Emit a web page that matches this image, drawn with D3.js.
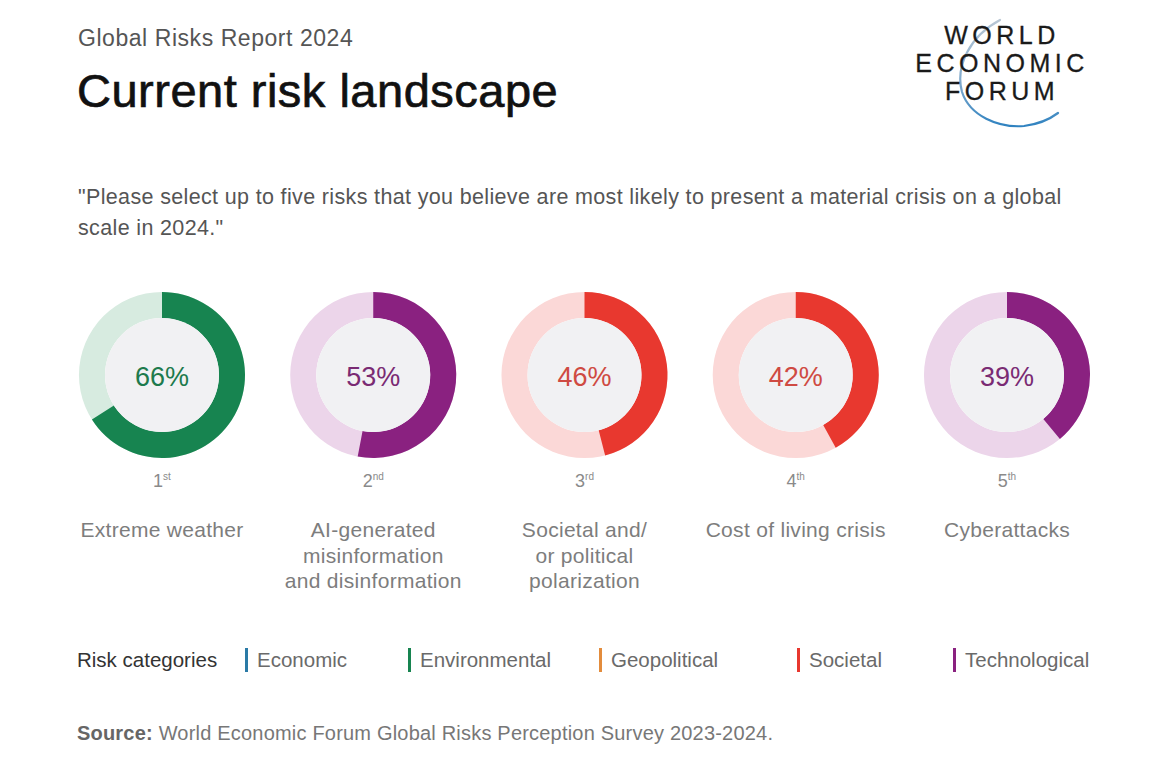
<!DOCTYPE html>
<html lang="en">
<head>
  <meta charset="UTF-8">
  <title>Current risk landscape</title>
  <script src="https://d3js.org/d3.v7.min.js"></script>
  <style>
    html, body { margin: 0; padding: 0; background: #fff; }
    svg { display: block; font-family: "Liberation Sans", Arial, Helvetica, sans-serif; }
  </style>
</head>
<body>
  <svg id="chart" width="1164" height="775"></svg>
  <script>
    // ---- data ----
    const risks = ["Extreme weather", "AI-generated misinformation and disinformation",
                   "Societal and/or political polarization", "Cost of living crisis", "Cyberattacks"];
    const labelLines = [
      ["Extreme weather"],
      ["AI-generated", "misinformation", "and disinformation"],
      ["Societal and/", "or political", "polarization"],
      ["Cost of living crisis"],
      ["Cyberattacks"]
    ];
    const shares = [66, 53, 46, 42, 39];
    const ranks = ["1", "2", "3", "4", "5"];
    const rankSuffix = ["st", "nd", "rd", "th", "th"];
    const riskCategory = ["Environmental", "Technological", "Societal", "Societal", "Technological"];
    const categories = ["Economic", "Environmental", "Geopolitical", "Societal", "Technological"];

    // ---- palette ----
    const catColor = d3.scaleOrdinal()
      .domain(categories)
      .range(["#2a7aa6", "#178450", "#e38c3c", "#e8382f", "#8a2180"]);
    const trackColor = d3.scaleOrdinal()
      .domain(categories)
      .range(["#d6e6f0", "#d7ebe0", "#fbe4d0", "#fbd8d7", "#ecd5ea"]);
    const textColor = d3.scaleOrdinal()
      .domain(categories)
      .range(["#2a6d93", "#1d7a4c", "#b36b2a", "#cf4a42", "#7a2b73"]);

    const svg = d3.select("#chart");

    // ---- header ----
    svg.append("text").attr("x", 78).attr("y", 46)
      .attr("font-size", 23).attr("letter-spacing", 0.55).attr("fill", "#555")
      .text("Global Risks Report 2024");

    svg.append("text").attr("x", 77).attr("y", 107)
      .attr("font-size", 47).attr("letter-spacing", 0.5).attr("fill", "#111")
      .attr("stroke", "#111").attr("stroke-width", 0.7)
      .text("Current risk landscape");

    // WEF logo
    const logo = svg.append("g");
    const grad = svg.append("defs").append("linearGradient")
      .attr("id", "arcGrad").attr("x1", 0).attr("y1", 0).attr("x2", 0).attr("y2", 1);
    grad.append("stop").attr("offset", "0%").attr("stop-color", "#b8c6d4");
    grad.append("stop").attr("offset", "60%").attr("stop-color", "#7fa9cc");
    grad.append("stop").attr("offset", "100%").attr("stop-color", "#2f82c0");
    logo.append("path")
      .attr("d", "M1000,20 C970,36 955,66 962,92 C970,116 998,128 1024,126 C1040,124 1050,119 1058,113")
      .attr("fill", "none").attr("stroke", "url(#arcGrad)").attr("stroke-width", 2.2)
      .attr("stroke-linecap", "round");
    [["WORLD", 44], ["ECONOMIC", 72], ["FORUM", 100]].forEach(([w, y]) => {
      logo.append("text").attr("x", 1002).attr("y", y)
        .attr("text-anchor", "middle").attr("font-size", 25)
        .attr("letter-spacing", 4.5).attr("fill", "#1a1a1a")
        .attr("stroke", "#1a1a1a").attr("stroke-width", 0.3)
        .text(w);
    });

    // question
    const q = svg.append("text").attr("font-size", 21.5).attr("letter-spacing", 0.35).attr("fill", "#555");
    q.append("tspan").attr("x", 78).attr("y", 204)
      .text("\"Please select up to five risks that you believe are most likely to present a material crisis on a global");
    q.append("tspan").attr("x", 78).attr("y", 235).text("scale in 2024.\"");

    // ---- donuts ----
    const x = d3.scalePoint().domain(risks).range([162, 1007]);
    const cy = 375;
    const outerR = 83, innerR = 57;
    const angle = d3.scaleLinear().domain([0, 100]).range([0, 2 * Math.PI]);
    const arc = d3.arc().innerRadius(innerR).outerRadius(outerR);

    const donut = svg.selectAll(".donut")
      .data(risks)
      .enter().append("g")
      .attr("class", "donut")
      .attr("transform", d => `translate(${x(d)},${cy})`);

    donut.append("path")
      .attr("d", arc({ startAngle: 0, endAngle: 2 * Math.PI }))
      .attr("fill", (d, i) => trackColor(riskCategory[i]));
    donut.append("path")
      .attr("d", (d, i) => arc({ startAngle: 0, endAngle: angle(shares[i]) }))
      .attr("fill", (d, i) => catColor(riskCategory[i]));
    donut.append("circle").attr("r", innerR).attr("fill", "#f1f1f3");
    donut.append("text")
      .attr("y", 11).attr("text-anchor", "middle")
      .attr("font-size", 27)
      .attr("fill", (d, i) => textColor(riskCategory[i]))
      .text((d, i) => shares[i] + "%");

    // rank
    const rk = donut.append("text")
      .attr("y", 112).attr("text-anchor", "middle").attr("fill", "#8a8a8a");
    rk.append("tspan").attr("font-size", 18).text((d, i) => ranks[i]);
    rk.append("tspan").attr("font-size", 10).attr("dy", -7).text((d, i) => rankSuffix[i]);

    // labels
    donut.each(function (d, i) {
      const t = d3.select(this).append("text")
        .attr("text-anchor", "middle").attr("font-size", 21)
        .attr("letter-spacing", 0.3).attr("fill", "#7d7d7d");
      labelLines[i].forEach((line, j) => {
        t.append("tspan").attr("x", 0).attr("y", 162 + j * 25.5).text(line);
      });
    });

    // ---- legend ----
    const legendY = 667;
    svg.append("text").attr("x", 77).attr("y", legendY)
      .attr("font-size", 20.5).attr("fill", "#333").text("Risk categories");
    const legendX = [245, 408, 599, 797, 953];
    const lg = svg.selectAll(".lg").data(categories).enter().append("g")
      .attr("class", "lg")
      .attr("transform", (d, i) => `translate(${legendX[i]},0)`);
    lg.append("rect").attr("x", 0).attr("y", legendY - 19).attr("width", 3).attr("height", 24)
      .attr("fill", d => catColor(d));
    lg.append("text").attr("x", 12).attr("y", legendY)
      .attr("font-size", 20.5).attr("fill", "#6a6a6a").text(d => d);

    // ---- source ----
    const src = svg.append("text").attr("x", 77).attr("y", 740)
      .attr("font-size", 20).attr("letter-spacing", 0.2).attr("fill", "#777");
    src.append("tspan").attr("font-weight", "bold").attr("fill", "#666").text("Source:");
    src.append("tspan").text(" World Economic Forum Global Risks Perception Survey 2023-2024.");
  </script>
</body>
</html>
